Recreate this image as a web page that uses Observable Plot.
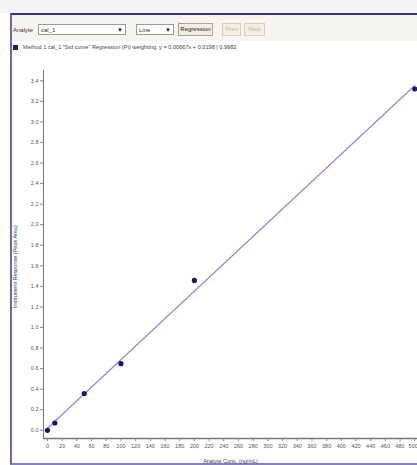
<!DOCTYPE html>
<html>
<head>
<meta charset="utf-8">
<script src="https://cdn.jsdelivr.net/npm/d3@7"></script>
<script src="https://cdn.jsdelivr.net/npm/@observablehq/plot@0.6"></script>
<style>
  html, body { margin: 0; padding: 0; background: #ffffff; }
  #page { position: relative; width: 417px; height: 465px; overflow: hidden; background: #ffffff;
          font-family: "Liberation Sans", Arial, sans-serif; }
  #topstrip { position: absolute; left: 0; top: 0; width: 417px; height: 13px; background: #f4f4f2; }
  #win { position: absolute; left: 10px; top: 13px; width: 420px; height: 448px;
         border-top: 2px solid #34348a; border-left: 2px solid #6a6ab0; border-bottom: 2px solid #8080c0;
         background: #ffffff; }
  #toolbar { position: absolute; left: 12px; top: 15px; width: 405px; height: 26px; background: #f6f4ee; }
  .lbl { position: absolute; font-size: 6px; color: #333; }
  .combo { position: absolute; height: 11px; background: #fff; border: 1px solid #9a9a9a; font-size: 6px;
           line-height: 11px; color: #333; padding-left: 2px; box-sizing: border-box; }
  .combo .arr { position: absolute; right: 2px; top: 0; font-size: 6px; color: #222; }
  .btn { position: absolute; height: 13px; border: 1px solid #a8a498; background: #f1eee4; font-size: 6px;
         line-height: 11px; text-align: center; box-sizing: border-box; color: #222; }
  .btn.off { color: #b8b4aa; border-color: #d2cec4; }
  #legend { position: absolute; left: 13px; top: 44px; height: 8px; font-size: 5.6px; color: #444; white-space: nowrap; }
  #legend .sw { display: inline-block; width: 5px; height: 5px; background: #1c1c80; vertical-align: middle; margin-right: 5px; }
  #chart { position: absolute; left: 0; top: 60px; }
  #ytitle { position: absolute; left: 12px; top: 308px; font-size: 5.5px; color: #444; white-space: nowrap;
            transform: rotate(-90deg); transform-origin: 0 0; }
</style>
</head>
<body>
<div id="page">
  <div id="topstrip"></div>
  <div id="win"></div>
  <div id="toolbar"></div>
  <div class="lbl" style="left:13px; top:27px;">Analyte</div>
  <div class="combo" style="left:38px; top:24px; width:88px;">cal_1<span class="arr">&#9660;</span></div>
  <div class="combo" style="left:136px; top:24px; width:38px;">Line<span class="arr">&#9660;</span></div>
  <div class="btn" style="left:178px; top:23px; width:35px;">Regression</div>
  <div class="btn off" style="left:222px; top:23px; width:19px;">Prev</div>
  <div class="btn off" style="left:244px; top:23px; width:21px;">Next</div>
  <div id="legend"><span class="sw"></span><span id="legendText"></span></div>
  <div id="chart"></div>
  <div id="ytitle"></div>
</div>
<script>
// Calibration standards: concentration and measured response
const concentrations = [0, 10, 50, 100, 200, 500];
const responses = [0.0, 0.071, 0.357, 0.648, 1.458, 3.32];

// Axis ticks
const xTicks = d3.range(0, 501, 20);
const yTicks = d3.range(0, 3.41, 0.2);

const xTitle = "Analyte Conc. (ng/mL)";
const yTitle = "Instrument Response (Peak Area)";

const standards = concentrations.map((c, i) => ({conc: c, resp: responses[i]}));

// Least-squares fit for the legend equation
const mx = d3.mean(concentrations), my = d3.mean(responses);
const sxy = d3.sum(standards, d => (d.conc - mx) * (d.resp - my));
const sxx = d3.sum(standards, d => (d.conc - mx) ** 2);
const syy = d3.sum(standards, d => (d.resp - my) ** 2);
const slope = sxy / sxx;
const intercept = my - slope * mx;
const r2 = (sxy * sxy) / (sxx * syy);

document.getElementById("legendText").textContent =
  `Method 1 cal_1 "Std curve" Regression (Pt) weighting: y = ${slope.toFixed(5)}x + ${intercept.toFixed(4)} | ${r2.toFixed(4)}`;
document.getElementById("ytitle").textContent = yTitle;

const xMin = -5.4, xMax = 503.7;
const yMin = -0.08, yMax = 3.5;

// The last x label sits at the right edge, so it is drawn end-anchored
const xLast = xTicks[xTicks.length - 1];
const fmt = d3.format("d");

const chart = Plot.plot({
  width: 417,
  height: 405,
  marginLeft: 43,
  marginRight: 0,
  marginTop: 10,
  marginBottom: 27,
  style: {background: "transparent", fontFamily: "Liberation Sans, Arial, sans-serif", fontSize: "5.5px", color: "#555"},
  x: {domain: [xMin, xMax]},
  y: {domain: [yMin, yMax]},
  marks: [
    Plot.ruleX([xMin], {y1: yMin, y2: yMax, stroke: "#777", strokeWidth: 1}),
    Plot.ruleY([yMin], {x1: xMin, x2: xMax, stroke: "#777", strokeWidth: 1.5}),
    Plot.axisY({ticks: yTicks, tickFormat: d3.format(".1f"), tickSize: 3, tickPadding: 2, label: null, stroke: "#888"}),
    Plot.axisX({ticks: xTicks, tickFormat: d => d === xLast ? "" : fmt(d), tickSize: 3, tickPadding: 3, label: null, stroke: "#888"}),
    Plot.text([xLast], {x: d => d, frameAnchor: "bottom", dy: 9, text: fmt, textAnchor: "end", dx: 3, fill: "#555"}),
    Plot.text([xTitle], {frameAnchor: "bottom", dy: 24, fontSize: 5.5, fill: "#444"}),
    Plot.linearRegressionY(standards, {x: "conc", y: "resp", stroke: "#8a8ae0", strokeWidth: 1.2, ci: 0}),
    Plot.dot(standards, {x: "conc", y: "resp", r: 2.6, fill: "#16166a", stroke: "none"})
  ]
});
document.getElementById("chart").appendChild(chart);
</script>
</body>
</html>
